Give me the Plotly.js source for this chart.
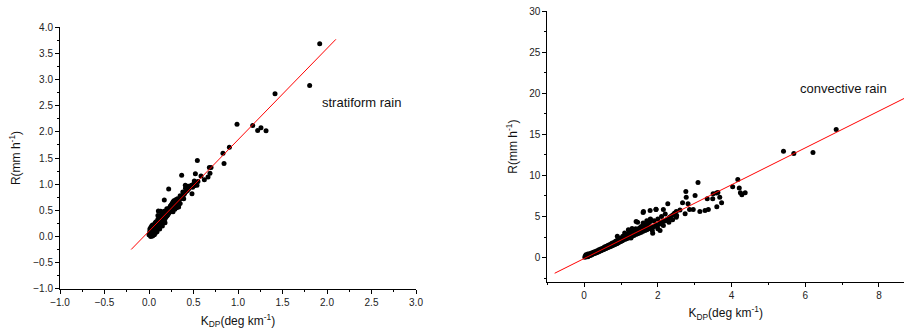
<!DOCTYPE html>
<html>
<head>
<meta charset="utf-8">
<script src="https://cdn.plot.ly/plotly-3.0.1.min.js"></script>
<style>html,body{margin:0;padding:0;background:#fff;}#chart{width:904px;height:335px;}</style>
</head>
<body>
<div id="chart"></div>
<script>
// ---- Stratiform rain (left panel) ----
const stratX = [0.01,0.01,0.01,0.01,0.02,0.02,0.02,0.02,0.03,0.03,0.03,0.03,0.03,0.04,0.04,0.04,0.04,0.04,0.05,0.05,0.05,0.05,0.06,0.06,0.06,0.06,0.07,0.07,0.07,0.07,0.08,0.08,0.08,0.08,0.09,0.09,0.09,0.10,0.10,0.10,0.10,0.11,0.11,0.11,0.12,0.12,0.12,0.13,0.13,0.13,0.14,0.14,0.14,0.15,0.15,0.15,0.16,0.16,0.16,0.17,0.17,0.17,0.18,0.18,0.19,0.19,0.20,0.20,0.20,0.21,0.21,0.22,0.22,0.23,0.23,0.24,0.24,0.25,0.25,0.26,0.26,0.27,0.27,0.28,0.28,0.29,0.30,0.30,0.31,0.32,0.32,0.33,0.34,0.35,0.35,0.36,0.37,0.38,0.38,0.39,0.40,0.41,0.41,0.42,0.43,0.44,0.44,0.45,0.46,0.47,0.48,0.49,0.50,0.51,0.52,0.53,0.55,0.13,0.10,0.31,0.29,0.33,0.35,0.39,0.27,0.00,0.02,0.04,0.06,0.07,0.09,0.12,0.15,0.18,
  1.918,1.805,1.416,0.989,1.165,1.221,1.258,1.315,0.903,0.831,0.843,0.543,0.367,0.521,0.584,0.678,0.697,0.685,0.663,0.622,0.221,0.172,0.408,0.509,0.539,0.483,0.333,0.105];
const stratY = [0.02,0.06,0.10,0.14,0.04,0.08,0.12,0.17,0.02,0.06,0.10,0.15,0.20,0.05,0.09,0.13,0.18,0.22,0.06,0.11,0.16,0.21,0.08,0.12,0.17,0.23,0.10,0.15,0.20,0.26,0.12,0.17,0.22,0.28,0.14,0.19,0.25,0.16,0.21,0.27,0.33,0.18,0.24,0.30,0.20,0.26,0.34,0.22,0.29,0.38,0.25,0.32,0.42,0.27,0.34,0.45,0.30,0.37,0.44,0.32,0.40,0.48,0.34,0.42,0.37,0.45,0.39,0.47,0.53,0.41,0.50,0.44,0.52,0.46,0.55,0.48,0.58,0.50,0.60,0.53,0.63,0.55,0.66,0.58,0.68,0.60,0.62,0.70,0.64,0.66,0.72,0.68,0.70,0.72,0.78,0.74,0.76,0.78,0.85,0.80,0.82,0.85,0.92,0.87,0.88,0.90,0.96,0.92,0.95,0.97,0.98,0.94,1.00,0.97,1.02,1.00,1.05,0.48,0.40,0.55,0.52,0.60,0.63,0.72,0.47,0.03,0.00,0.01,0.03,0.06,0.09,0.14,0.20,0.26,
  3.687,2.888,2.728,2.147,2.121,2.026,2.077,2.019,1.706,1.591,1.393,1.450,1.169,1.201,1.157,1.316,1.316,1.208,1.137,1.086,0.907,0.696,0.978,1.061,0.978,0.818,0.562,0.486];
const stratFitX = [-0.2, 2.1];
const stratFitY = [-0.25, 3.77];

// ---- Convective rain (right panel) ----
const convX = [0.02,0.03,0.05,0.05,0.08,0.08,0.1,0.1,0.1,0.12,0.12,0.15,0.15,0.18,0.18,0.2,0.2,0.22,0.25,0.25,0.28,0.3,0.3,0.33,0.35,0.35,0.38,0.4,0.4,0.43,0.45,0.45,0.48,0.5,0.5,0.53,0.55,0.55,0.58,0.6,0.6,0.63,0.65,0.65,0.68,0.7,0.7,0.73,0.75,0.75,0.78,0.8,0.8,0.83,0.85,0.85,0.88,0.9,0.9,0.93,0.95,0.95,0.98,1.0,1.0,1.03,1.05,1.05,1.1,1.1,1.15,1.15,1.2,1.2,1.25,1.25,1.3,1.3,1.35,1.35,1.4,1.4,1.45,1.45,1.5,1.5,1.55,1.55,1.6,1.6,1.65,1.65,1.7,1.7,1.75,1.75,1.8,1.8,1.85,1.9,1.9,1.95,2.0,2.0,2.05,2.1,2.1,2.15,2.2,2.2,2.25,2.3,2.35,2.4,2.45,2.5,1.3,1.45,1.2,0.9,1.1,1.7,2.3,2.4,2.0,1.85,2.15,2.6,2.5,1.6,1.27,2.07,1.80,
  6.84,5.41,5.69,6.21,4.17,4.03,4.21,4.24,4.37,4.28,3.09,2.76,2.77,3.01,2.82,2.67,2.27,3.50,3.59,3.63,3.34,3.49,3.68,3.73,3.60,3.37,3.28,3.14,2.96,2.86,2.74,1.61,1.79,1.95,2.15,1.79,1.41,1.86,2.06,2.33,2.51,1.60,1.95];
const convY = [0.05,0.2,0.1,0.35,0.15,0.3,0.1,0.25,0.45,0.2,0.4,0.25,0.45,0.3,0.5,0.35,0.55,0.4,0.45,0.65,0.5,0.55,0.75,0.6,0.65,0.85,0.7,0.75,0.95,0.8,0.85,1.05,0.9,0.95,1.15,1.0,1.05,1.3,1.1,1.15,1.4,1.2,1.25,1.5,1.3,1.35,1.6,1.4,1.45,1.75,1.5,1.55,1.85,1.6,1.65,2.0,1.7,1.75,2.1,1.8,1.9,2.25,1.95,2.0,2.4,2.05,2.1,2.6,2.2,2.5,2.3,2.75,2.4,2.9,2.5,3.0,2.6,3.2,2.7,3.3,2.8,3.5,2.9,3.4,3.0,3.6,3.1,3.8,3.2,3.7,3.3,4.0,3.4,3.9,3.5,4.2,3.6,4.4,3.7,3.8,4.5,3.9,4.0,4.7,4.1,4.3,5.0,4.4,4.5,5.3,4.6,4.8,5.0,5.2,5.4,5.6,3.55,4.3,3.4,2.6,3.0,4.5,4.3,4.6,3.5,3.3,3.9,5.8,4.9,4.2,2.4,4.2,4.7,
  15.6,12.93,12.68,12.8,9.51,8.62,8.46,7.89,7.89,7.64,9.15,8.05,7.36,7.56,6.54,6.67,6.54,7.76,7.85,7.93,7.15,7.15,7.36,6.67,6.18,5.85,5.73,5.61,5.85,5.85,5.33,5.61,5.73,5.85,5.85,4.63,4.39,2.97,3.29,4.92,5.12,5.5,5.9];
const convFitX = [-0.8, 8.7];
const convFitY = [-1.9, 19.4];

const tickFont = {family: 'Liberation Sans, Arial, sans-serif', size: 10, color: '#222'};
const titleFont = {family: 'Liberation Sans, Arial, sans-serif', size: 12, color: '#111'};
const noteFont = {family: 'Liberation Sans, Arial, sans-serif', size: 13, color: '#111'};

function axisBase(extra) {
  return Object.assign({
    showline: true, linecolor: '#000', linewidth: 1, mirror: false,
    showgrid: false, zeroline: false,
    ticks: 'outside', ticklen: 4, tickwidth: 1, tickcolor: '#000',
    tickfont: tickFont, fixedrange: true
  }, extra);
}

const traces = [
  {x: stratX, y: stratY, xaxis: 'x', yaxis: 'y', type: 'scatter', mode: 'markers',
   marker: {color: '#000', size: 5}, hoverinfo: 'skip'},
  {x: stratFitX, y: stratFitY, xaxis: 'x', yaxis: 'y', type: 'scatter', mode: 'lines',
   line: {color: '#ff0000', width: 1}, hoverinfo: 'skip'},
  {x: convX, y: convY, xaxis: 'x2', yaxis: 'y2', type: 'scatter', mode: 'markers',
   marker: {color: '#000', size: 5}, hoverinfo: 'skip'},
  {x: convFitX, y: convFitY, xaxis: 'x2', yaxis: 'y2', type: 'scatter', mode: 'lines',
   line: {color: '#ff0000', width: 1}, hoverinfo: 'skip'}
];

const layout = {
  width: 904, height: 335,
  margin: {l: 0, r: 0, t: 0, b: 0},
  paper_bgcolor: '#fff', plot_bgcolor: '#fff',
  showlegend: false,
  xaxis: axisBase({domain: [60/904, 416/904], range: [-1, 3], dtick: 0.5, tick0: 0, tickformat: '.1f',
    minor: {ticks: 'outside', ticklen: 2, dtick: 0.25, tick0: 0, tickcolor: '#000'},
    anchor: 'y',
    title: {text: 'K<sub>DP</sub>(deg km<sup>-1</sup>)', font: titleFont, standoff: 9}}),
  yaxis: axisBase({domain: [1 - 288.7/335, 1 - 27.3/335], range: [-1, 4], dtick: 0.5, tick0: 0, tickformat: '.1f',
    minor: {ticks: 'outside', ticklen: 2, dtick: 0.25, tick0: 0, tickcolor: '#000'},
    anchor: 'x',
    title: {text: 'R(mm h<sup>-1</sup>)', font: titleFont, standoff: 10}}),
  xaxis2: axisBase({domain: [547.3/904, 1], range: [-1, 8.68], dtick: 2, tick0: 0,
    minor: {ticks: 'outside', ticklen: 2, dtick: 1, tick0: 0, tickcolor: '#000'},
    anchor: 'y2',
    title: {text: 'K<sub>DP</sub>(deg km<sup>-1</sup>)', font: titleFont, standoff: 8}}),
  yaxis2: axisBase({domain: [1 - 282.3/335, 1 - 11/335], range: [-3, 30], dtick: 5, tick0: 0,
    minor: {ticks: 'outside', ticklen: 2, dtick: 2.5, tick0: 0, tickcolor: '#000'},
    anchor: 'x2',
    title: {text: 'R(mm h<sup>-1</sup>)', font: titleFont, standoff: 8}}),
  annotations: [
    {xref: 'x', yref: 'y', x: 2.39, y: 2.57, text: 'stratiform rain', showarrow: false, font: noteFont},
    {xref: 'x2', yref: 'y2', x: 7.05, y: 20.6, text: 'convective rain', showarrow: false, font: noteFont}
  ]
};

Plotly.newPlot('chart', traces, layout, {displayModeBar: false, staticPlot: true});
</script>
</body>
</html>
